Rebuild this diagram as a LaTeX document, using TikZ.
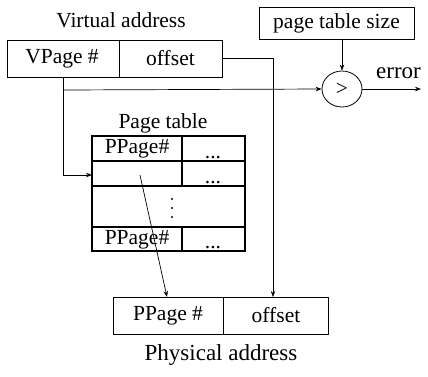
\documentclass[tikz,border=0pt]{standalone}
\usepackage{fontspec}
\setmainfont{Liberation Serif}
\usetikzlibrary{arrows.meta,shapes.geometric}
\begin{document}
\begin{tikzpicture}[x=1pt,y=-1pt,
  txt/.style={font=\fontsize{21.5}{26}\selectfont, inner sep=0pt},
  bigtxt/.style={font=\fontsize{23}{28}\selectfont, inner sep=0pt},
  boxx/.style={draw, line width=0.8pt, inner sep=0pt},
  tab/.style={line width=1.4pt},
  arr/.style={line width=0.7pt, -{Stealth[length=6pt,width=4.5pt]}},
  dotm/.style={fill, circle, inner sep=0pt, minimum size=2.2pt}]
\useasboundingbox (0,0) rectangle (428,376);
% virtual address
\node[txt] (vlabel) at (121,20) {Virtual address};
\draw[boxx] (7,40) rectangle (119,77);
\draw[boxx] (119,40) rectangle (222,77);
\node[txt] (vpage) at (62,58.5) {VPage \#};
\node[txt] (voff) at (170.5,58.5) {offset};
\coordinate (vpb) at (63,77);
\coordinate (voe) at (222,58);
% page table size
\draw[boxx] (259,7) rectangle (414,39);
\node[txt] (pts) at (336.5,23) {page table size};
\coordinate (ptsb) at (342,39);
% comparator
\node[draw, line width=0.8pt, ellipse, minimum width=40pt, minimum height=36pt, inner sep=0pt, txt] (cmp) at (342,89) {>};
\coordinate (errend) at (421,89);
\node[bigtxt, anchor=west] (err) at (376,73) {error};
% page table
\node[txt] (ptl) at (163,123) {Page table};
\draw[tab] (92,136) rectangle (245,251);
\draw[tab] (92,161) -- (245,161);
\draw[tab] (92,186) -- (245,186);
\draw[tab] (92,227) -- (245,227);
\draw[tab] (182,136) -- (182,186);
\draw[tab] (182,227) -- (182,251);
\node[txt] (pp1) at (137,148.5) {PPage\#};
\node[txt] (pp4) at (137,239.5) {PPage\#};
\node[txt, anchor=base] (d1) at (213,158) {...};
\node[txt, anchor=base] (d2) at (213,183) {...};
\node[txt, anchor=base] (d4) at (213,248) {...};
\node[dotm] (vd1) at (172,199) {};
\node[dotm] (vd2) at (172,208) {};
\node[dotm] (vd3) at (172,217) {};
\coordinate (row2) at (92,175);
\coordinate (diag) at (140,175);
% physical address
\draw[boxx] (113,297) rectangle (223,334);
\draw[boxx] (223,297) rectangle (328,334);
\node[txt] (ppage) at (168,315.5) {PPage \#};
\node[txt] (poff) at (276,315.5) {offset};
\node[bigtxt] (plabel) at (221,355) {Physical address};
\coordinate (ppt) at (167,297);
\coordinate (pot) at (273,297);
% connectors
\draw[arr] (vpb) -- (63,175) -- (row2);
\draw[arr] (63,90) -- (cmp.west);
\draw[arr] (ptsb) -- (cmp.north);
\draw[arr] (cmp.east) -- (errend);
\draw[arr] (voe) -- (273,58) -- (pot);
\draw[arr] (diag) -- (ppt);
\end{tikzpicture}
\end{document}
